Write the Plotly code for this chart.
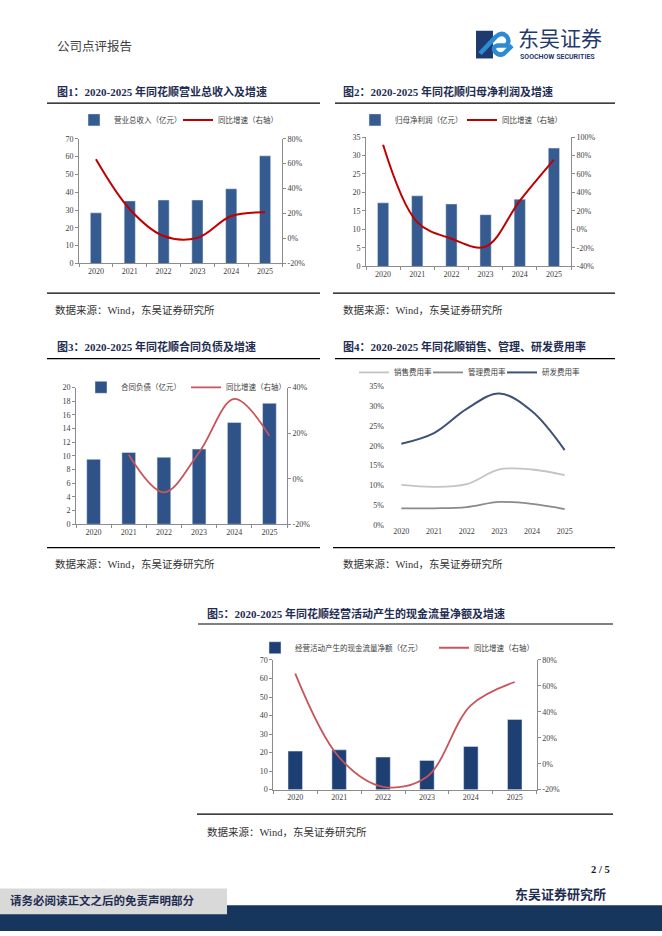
import re
import plotly.graph_objects as go

W, H = 662, 936

# ---------------- data ----------------
years = ["2020", "2021", "2022", "2023", "2024", "2025"]
years_contract_yoy = ["2021", "2022", "2023", "2024", "2025"]

revenue = [28.4, 35.1, 35.6, 35.6, 41.9, 60.4]          # 营业总收入（亿元）
revenue_yoy = [63.5, 23.5, 2.0, 0.5, 18.0, 21.0]        # 同比增速 %
profit = [17.2, 19.1, 16.9, 14.0, 18.2, 32.0]           # 归母净利润（亿元）
profit_yoy = [91.7, 8.0, -10.0, -18.6, 31.0, 75.5]
contract = [9.5, 10.5, 9.8, 11.0, 14.9, 17.7]           # 合同负债（亿元）
contract_yoy = [10.5, -6.0, 11.5, 35.0, 18.8]
sales_rate = [10.1, 9.6, 10.3, 14.0, 14.0, 12.6]        # 销售费用率 %
admin_rate = [4.2, 4.2, 4.5, 5.8, 5.3, 4.0]             # 管理费用率 %
rd_rate = [20.5, 23.2, 29.3, 33.2, 28.7, 18.9]          # 研发费用率 %
ocf = [20.8, 21.5, 17.6, 15.8, 23.3, 37.9]              # 经营活动现金流净额（亿元）
ocf_yoy = [69.5, 5.0, -17.8, -10.0, 45.0, 63.0]

ticks_0_70 = [0, 10, 20, 30, 40, 50, 60, 70]
ticks_0_35 = [0, 5, 10, 15, 20, 25, 30, 35]
ticks_0_20 = [0, 2, 4, 6, 8, 10, 12, 14, 16, 18, 20]
pct_m20_80 = [-20, 0, 20, 40, 60, 80]
pct_m40_100 = [-40, -20, 0, 20, 40, 60, 80, 100]
pct_m20_40 = [-20, 0, 20, 40]
pct_0_35 = [0, 5, 10, 15, 20, 25, 30, 35]


def pct_labels(vals):
    return [f"{v}%" for v in vals]


# ---------------- styles ----------------
AX = "#8C8C8C"
TICKF = dict(family="Liberation Serif, Times New Roman, serif", size=8, color="#404040")
LEGF = dict(family="Noto Sans CJK SC", size=7.5, color="#404040")
TITLEF = dict(family="Liberation Serif, Noto Sans CJK SC", size=11, color="#1F2D52")
SRCF = dict(family="Liberation Serif, Noto Sans CJK SC", size=10.5, color="#333333")
BAR1 = "#355B90"
BAR3 = "#2F5289"
BAR5 = "#1E3F73"
RED1 = "#C00000"
RED2 = "#C8545C"


def X(p):
    return p / W


def Y(p):
    return 1 - p / H


def xaxis(x0, x1, anchor, line=True):
    return dict(domain=[X(x0), X(x1)], anchor=anchor, type="category", range=[-0.5, 5.5],
                showgrid=False, zeroline=False, showline=line, linecolor=AX, linewidth=1,
                ticks="outside" if line else "", tickson="boundaries", ticklen=3,
                tickcolor=AX, tickfont=TICKF, fixedrange=True)


def yaxis(ytop, ybot, anchor, rng, vals, text, side="left", overlaying=None, line=True):
    d = dict(anchor=anchor, range=rng, tickvals=vals, ticktext=text, side=side,
             showgrid=False, zeroline=False, showline=line, linecolor=AX, linewidth=1,
             ticks="outside" if line else "", ticklen=3, tickcolor=AX, tickfont=TICKF,
             fixedrange=True)
    if overlaying:
        d["overlaying"] = overlaying
    else:
        d["domain"] = [Y(ybot), Y(ytop)]
    return d


def leg(text_x, y):
    return dict(x=X(text_x - 40), y=Y(y), xanchor="left", yanchor="middle", orientation="h",
                bgcolor="rgba(0,0,0,0)", borderwidth=0, font=LEGF, itemclick=False,
                itemdoubleclick=False)


fig = go.Figure()

spline = dict(shape="spline", smoothing=1.0)

# Chart 1
fig.add_trace(go.Bar(x=years, y=revenue, name="营业总收入（亿元）", marker_color=BAR1, width=0.33,
                     xaxis="x", yaxis="y", legend="legend", showlegend=True))
fig.add_trace(go.Scatter(x=years, y=revenue_yoy, name="同比增速（右轴）", mode="lines",
                         line=dict(color=RED1, width=2, **spline), xaxis="x", yaxis="y2", legend="legend2"))
# Chart 2
fig.add_trace(go.Bar(x=years, y=profit, name="归母净利润（亿元）", marker_color=BAR1, width=0.33,
                     xaxis="x2", yaxis="y3", legend="legend3"))
fig.add_trace(go.Scatter(x=years, y=profit_yoy, name="同比增速（右轴）", mode="lines",
                         line=dict(color=RED1, width=2, **spline), xaxis="x2", yaxis="y4", legend="legend4"))
# Chart 3
fig.add_trace(go.Bar(x=years, y=contract, name="合同负债（亿元）", marker_color=BAR3, width=0.39,
                     xaxis="x3", yaxis="y5", legend="legend5"))
fig.add_trace(go.Scatter(x=years_contract_yoy, y=contract_yoy, name="同比增速（右轴）", mode="lines",
                         line=dict(color=RED2, width=1.8, **spline), xaxis="x3", yaxis="y6", legend="legend6"))
# Chart 4
fig.add_trace(go.Scatter(x=years, y=sales_rate, name="销售费用率", mode="lines",
                         line=dict(color="#C4C4C4", width=1.8, **spline), xaxis="x4", yaxis="y7", legend="legend7"))
fig.add_trace(go.Scatter(x=years, y=admin_rate, name="管理费用率", mode="lines",
                         line=dict(color="#8A8A8A", width=1.8, **spline), xaxis="x4", yaxis="y7", legend="legend8"))
fig.add_trace(go.Scatter(x=years, y=rd_rate, name="研发费用率", mode="lines",
                         line=dict(color="#3E5277", width=2, **spline), xaxis="x4", yaxis="y7", legend="legend9"))
# Chart 5
fig.add_trace(go.Bar(x=years, y=ocf, name="经营活动产生的现金流量净额（亿元）", marker_color=BAR5, width=0.33,
                     xaxis="x5", yaxis="y8", legend="legend10"))
fig.add_trace(go.Scatter(x=years, y=ocf_yoy, name="同比增速（右轴）", mode="lines",
                         line=dict(color=RED2, width=1.8, **spline), xaxis="x5", yaxis="y9", legend="legend11"))

layout = dict(
    width=W, height=H, margin=dict(l=0, r=0, t=0, b=0), showlegend=True,
    paper_bgcolor="white", plot_bgcolor="rgba(0,0,0,0)", hovermode=False,
    xaxis=xaxis(79, 282, "y"),
    yaxis=yaxis(136, 262, "x", [0, 70], ticks_0_70, [str(v) for v in ticks_0_70]),
    yaxis2=yaxis(136, 262, "x", [-20, 80], pct_m20_80, pct_labels(pct_m20_80), side="right", overlaying="y"),
    xaxis2=xaxis(366, 571, "y3"),
    yaxis3=yaxis(134.3, 265, "x2", [0, 35], ticks_0_35, [str(v) for v in ticks_0_35]),
    yaxis4=yaxis(134.3, 265, "x2", [-40, 100], pct_m40_100, pct_labels(pct_m40_100), side="right", overlaying="y3"),
    xaxis3=xaxis(76, 287, "y5"),
    yaxis5=yaxis(387.3, 525.3, "x3", [0, 20], ticks_0_20, [str(v) for v in ticks_0_20]),
    yaxis6=yaxis(387.3, 525.3, "x3", [-20, 40], pct_m20_40, pct_labels(pct_m20_40), side="right", overlaying="y5"),
    xaxis4=xaxis(385, 581, "y7", line=False),
    yaxis7=yaxis(386, 526, "x4", [0, 35], pct_0_35, pct_labels(pct_0_35), line=False),
    xaxis5=xaxis(273.3, 536.7, "y8"),
    yaxis8=yaxis(662.3, 793.3, "x5", [0, 70], ticks_0_70, [str(v) for v in ticks_0_70]),
    yaxis9=yaxis(662.3, 793.3, "x5", [-20, 80], pct_m20_80, pct_labels(pct_m20_80), side="right", overlaying="y8"),
    legend=leg(114, 117), legend2=leg(218, 117),
    legend3=leg(395, 117), legend4=leg(502, 117),
    legend5=leg(121, 387), legend6=leg(226, 387),
    legend7=leg(394, 372), legend8=leg(468, 372), legend9=leg(542, 372),
    legend10=leg(295, 650), legend11=leg(474, 650),
)
fig.update_layout(**layout)

# ---------------- annotations ----------------
ann = []


def text(x, y, s, font, xanchor="left"):
    ann.append(dict(x=X(x), y=Y(y), xref="paper", yref="paper", text=s, showarrow=False,
                    xanchor=xanchor, yanchor="middle", font=font))


text(55, 42, "公司点评报告", dict(family="Noto Sans CJK SC", size=12.5, color="#404040"))
text(516, 33, "东吴证券", dict(family="Noto Sans CJK SC", size=21, color="#1F3A6E"))
text(518, 54, "<b>SOOCHOW SECURITIES</b>", dict(family="Roboto", size=7, color="#1F3A6E"))

text(55, 88, "<b>图1：2020-2025 年同花顺营业总收入及增速</b>", TITLEF)
text(341, 88, "<b>图2：2020-2025 年同花顺归母净利润及增速</b>", TITLEF)
text(55, 346, "<b>图3：2020-2025 年同花顺合同负债及增速</b>", TITLEF)
text(341, 346, "<b>图4：2020-2025 年同花顺销售、管理、研发费用率</b>", TITLEF)
text(205, 615, "<b>图5：2020-2025 年同花顺经营活动产生的现金流量净额及增速</b>", TITLEF)

src = "数据来源：Wind，东吴证券研究所"
text(53, 309, src, SRCF)
text(341, 309, src, SRCF)
text(53, 565, src, SRCF)
text(341, 565, src, SRCF)
text(205, 836, src, SRCF)

text(612, 874, "<b>2 / 5</b>", dict(family="Liberation Serif", size=10.5, color="#1A1A1A"), xanchor="right")
text(608, 898, "<b>东吴证券研究所</b>", dict(family="Noto Sans CJK SC", size=13, color="#1F2D52"), xanchor="right")
text(8, 905, "<b>请务必阅读正文之后的免责声明部分</b>", dict(family="Noto Sans CJK SC", size=11.5, color="#1F2D52"))

# ---------------- shapes ----------------
shapes = []


def hline(x0, x1, y, color="#000000", w=1.2):
    shapes.append(dict(type="line", xref="paper", yref="paper", x0=X(x0), x1=X(x1), y0=Y(y), y1=Y(y),
                       line=dict(color=color, width=w)))


def rect(x0, y0, x1, y1, color):
    shapes.append(dict(type="rect", xref="paper", yref="paper", x0=X(x0), x1=X(x1), y0=Y(y1), y1=Y(y0),
                       line=dict(width=0), fillcolor=color, layer="below"))


def pxpath(p):
    out = []
    for part in re.findall(r"[MLCQZ][^MLCQZ]*", p):
        c = part[0]
        vals = [float(n) for n in re.findall(r"-?\d+\.?\d*", part[1:])]
        pts = [f"{X(vals[i]):.5f},{Y(vals[i + 1]):.5f}" for i in range(0, len(vals), 2)]
        out.append(c + " ".join(pts))
    return " ".join(out)


hline(47, 320, 100)
hline(335, 615, 100)
hline(47, 320, 358)
hline(335, 615, 358)
hline(198, 613, 626)
hline(47, 320, 292)
hline(333, 615, 292)
hline(47, 320, 549)
hline(333, 615, 549)
hline(197, 613, 818)

# footer
rect(0, 910, 662, 936, "#17365D")
rect(0, 893, 227, 919, "#D9D9D9")

# logo icon
shapes.append(dict(type="path", xref="paper", yref="paper",
                   path=pxpath("M476,27 L493,27 L493,55 L476,55 Z"),
                   fillcolor="#1F3A6E", line=dict(width=0)))
shapes.append(dict(type="path", xref="paper", yref="paper",
                   path=pxpath("M480,50 L496,33 Q501,28 506,32 Q511,37 506,42 L498,42 Q492,43 495,48 Q499,53 504,50 L512,42"),
                   line=dict(color="#2D8BD3", width=4.5)))

fig.update_layout(annotations=ann, shapes=shapes)

fig.write_html("out.html", config={"displayModeBar": False},
               post_script="document.body.style.margin='0';")
